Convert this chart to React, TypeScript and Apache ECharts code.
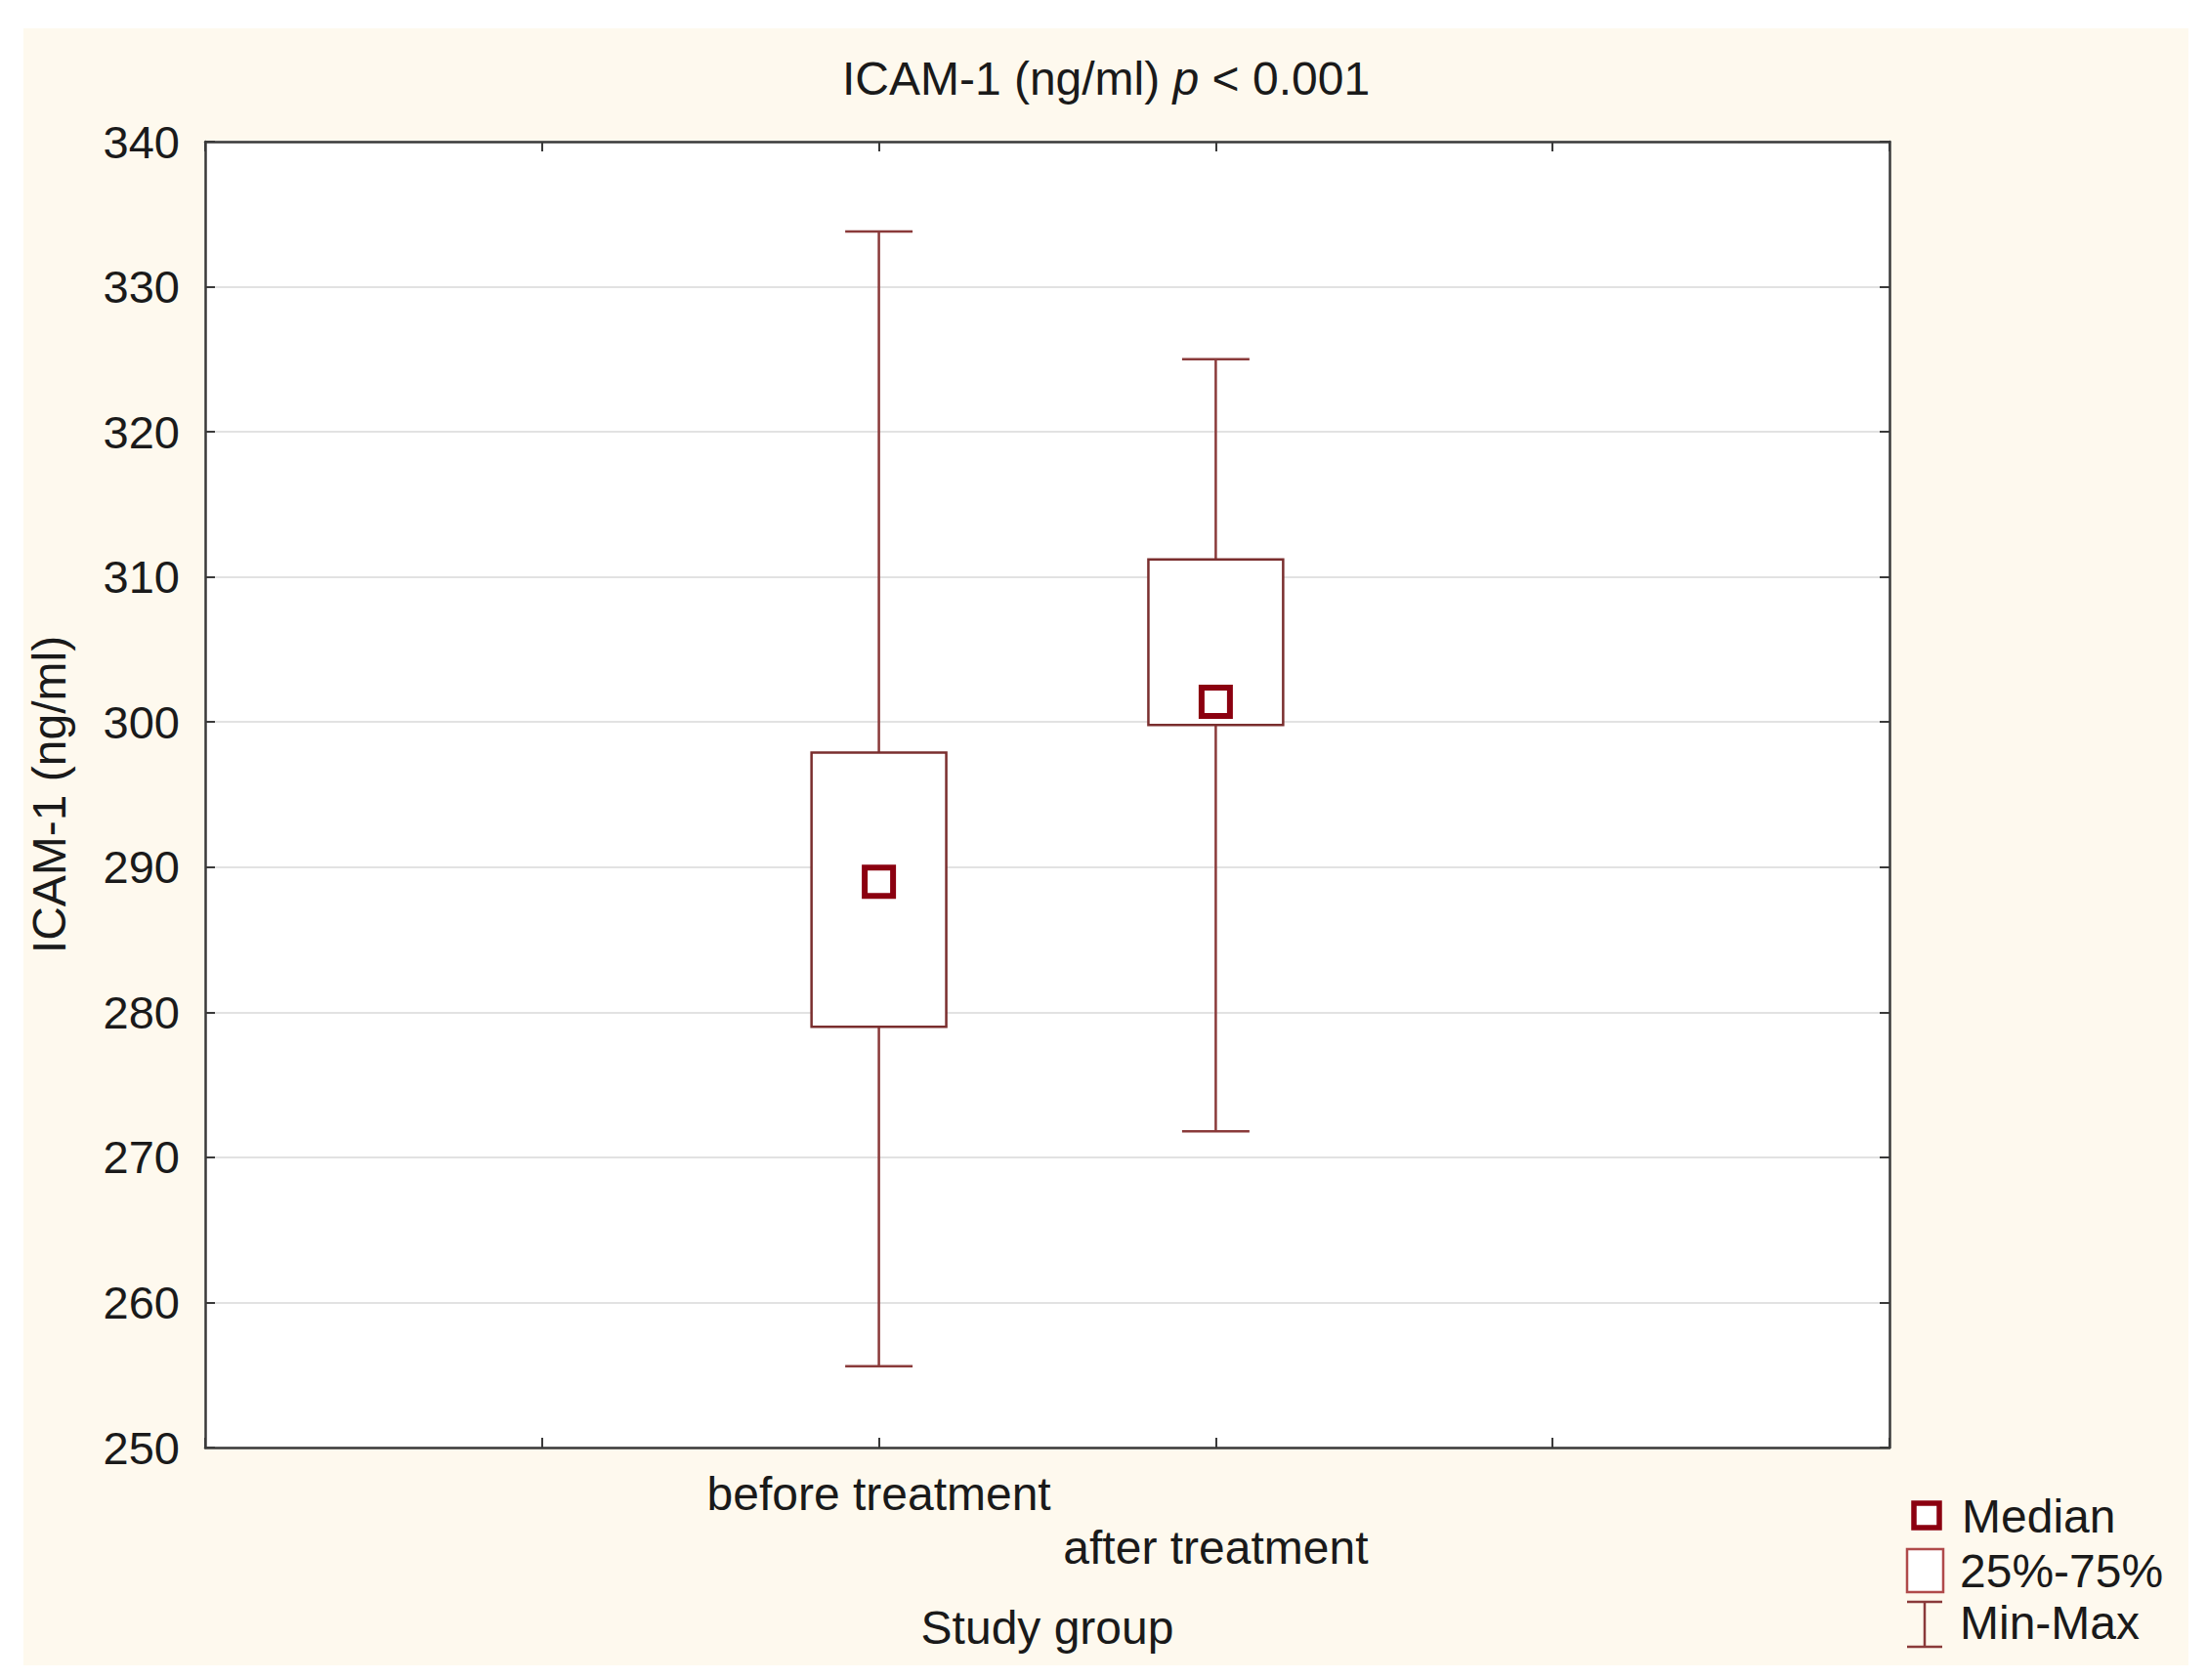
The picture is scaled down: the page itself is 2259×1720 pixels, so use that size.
import React, { useEffect, useRef } from "react";
import * as echarts from "echarts";

// ---- data ----
const categories = ["before treatment", "after treatment"];
const minValues = [255.6, 271.8];
const q1Values = [279.0, 299.8];
const medianValues = [289.0, 301.4];
const q3Values = [297.9, 311.2];
const maxValues = [333.8, 325.0];
const yTicks = { min: 250, max: 340, interval: 10 };
const titleMain = "ICAM-1 (ng/ml) ";
const titleP = "p";
const titleRest = " < 0.001";
const yName = "ICAM-1 (ng/ml)";
const xName = "Study group";
const legendLabels = ["Median", "25%-75%", "Min-Max"];

const FONT = "'Liberation Sans', Arial, sans-serif";
const BOX_COLOR = "#7a2e2e";
const WHISKER_COLOR = "#8a3a3a";
const MEDIAN_COLOR = "#8b0010";
const FS = 48;

export default function App() {
  const ref = useRef<HTMLDivElement>(null);

  useEffect(() => {
    document.body.style.margin = "0";
    if (!ref.current) return;
    const chart = echarts.init(ref.current, null, { renderer: "svg" });

    // pad the category axis with empty slots on both sides (5 equal bands)
    const axisCats = ["", "", ...categories, "", ""];
    const offset = 2;

    const boxData = categories.map((_, i) => [
      i + offset,
      minValues[i],
      q1Values[i],
      medianValues[i],
      q3Values[i],
      maxValues[i],
    ]);
    const medianData = categories.map((_, i) => [i + offset, medianValues[i]]);

    const renderItem = (params: any, api: any) => {
      const x = api.value(0);
      const vMin = api.value(1);
      const vQ1 = api.value(2);
      const vQ3 = api.value(4);
      const vMax = api.value(5);
      const pMin = api.coord([x, vMin]);
      const pQ1 = api.coord([x, vQ1]);
      const pQ3 = api.coord([x, vQ3]);
      const pMax = api.coord([x, vMax]);
      const band = api.coord([x + 1, vMin])[0] - pMin[0];
      const boxW = band * 0.4;
      const capW = band * 0.2;
      const cx = pMin[0];
      const lineStyle = { stroke: WHISKER_COLOR, lineWidth: 2.5 };
      return {
        type: "group",
        children: [
          { type: "line", shape: { x1: cx, y1: pMax[1], x2: cx, y2: pQ3[1] }, style: lineStyle },
          { type: "line", shape: { x1: cx, y1: pQ1[1], x2: cx, y2: pMin[1] }, style: lineStyle },
          { type: "line", shape: { x1: cx - capW / 2, y1: pMax[1], x2: cx + capW / 2, y2: pMax[1] }, style: lineStyle },
          { type: "line", shape: { x1: cx - capW / 2, y1: pMin[1], x2: cx + capW / 2, y2: pMin[1] }, style: lineStyle },
          {
            type: "rect",
            shape: { x: cx - boxW / 2, y: pQ3[1], width: boxW, height: pQ1[1] - pQ3[1] },
            style: { fill: "#ffffff", stroke: BOX_COLOR, lineWidth: 2.5 },
          },
        ],
      };
    };

    const tickLabelStyle = { color: "#1a1a1a", fontSize: FS, fontFamily: FONT };

    chart.setOption({
      animation: false,
      backgroundColor: "#ffffff",
      title: {
        text: `{n|${titleMain}}{i|${titleP}}{n|${titleRest}}`,
        left: 1127,
        textAlign: "center",
        top: 51,
        textStyle: {
          fontWeight: "normal",
          rich: {
            n: { fontSize: FS, fontFamily: FONT, color: "#1a1a1a", fontWeight: "normal" },
            i: { fontSize: FS, fontFamily: FONT, color: "#1a1a1a", fontStyle: "italic", fontWeight: "normal" },
          },
        },
      },
      graphic: [
        {
          type: "rect",
          z: -10,
          silent: true,
          shape: { x: 24, y: 29, width: 2216, height: 1676 },
          style: { fill: "#fef9ee" },
        },
        // legend
        {
          type: "rect",
          shape: { x: 1959, y: 1539, width: 26, height: 25 },
          style: { fill: "#ffffff", stroke: MEDIAN_COLOR, lineWidth: 5.5 },
        },
        {
          type: "text",
          x: 2008,
          y: 1552,
          style: { text: legendLabels[0], fontSize: FS, fontFamily: FONT, fill: "#1a1a1a", verticalAlign: "middle" },
        },
        {
          type: "rect",
          shape: { x: 1952, y: 1586, width: 37, height: 44 },
          style: { fill: "#ffffff", stroke: "#b04a4a", lineWidth: 2.5 },
        },
        {
          type: "text",
          x: 2006,
          y: 1608,
          style: { text: legendLabels[1], fontSize: FS, fontFamily: FONT, fill: "#1a1a1a", verticalAlign: "middle" },
        },
        {
          type: "line",
          shape: { x1: 1952, y1: 1640, x2: 1988, y2: 1640 },
          style: { stroke: WHISKER_COLOR, lineWidth: 2.5 },
        },
        {
          type: "line",
          shape: { x1: 1970, y1: 1640, x2: 1970, y2: 1686 },
          style: { stroke: WHISKER_COLOR, lineWidth: 2.5 },
        },
        {
          type: "line",
          shape: { x1: 1952, y1: 1686, x2: 1988, y2: 1686 },
          style: { stroke: WHISKER_COLOR, lineWidth: 2.5 },
        },
        {
          type: "text",
          x: 2006,
          y: 1661,
          style: { text: legendLabels[2], fontSize: FS, fontFamily: FONT, fill: "#1a1a1a", verticalAlign: "middle" },
        },
      ],
      grid: {
        left: 210,
        right: 2259 - 1934,
        top: 145,
        bottom: 1720 - 1482,
        show: true,
        backgroundColor: "#ffffff",
        borderWidth: 0,
      },
      xAxis: [
        {
          type: "category",
          data: axisCats,
          boundaryGap: false,
          position: "bottom",
          axisLine: { show: true, lineStyle: { color: "#3a3a3a", width: 2.5 } },
          axisTick: { show: true, inside: true, length: 10, interval: 0, lineStyle: { color: "#3a3a3a", width: 2 } },
          axisLabel: {
            interval: 0,
            margin: 20,
            lineHeight: 55,
            ...tickLabelStyle,
            formatter: (v: string, idx: number) => (idx === offset + 1 ? "\n" + v : v),
          },
          splitLine: { show: false },
          name: xName,
          nameLocation: "middle",
          nameGap: 160,
          nameTextStyle: { fontSize: FS, fontFamily: FONT, color: "#1a1a1a" },
        },
        {
          type: "category",
          data: axisCats,
          boundaryGap: false,
          position: "top",
          axisLine: { show: true, lineStyle: { color: "#3a3a3a", width: 2.5 } },
          axisTick: { show: true, inside: true, length: 10, interval: 0, lineStyle: { color: "#3a3a3a", width: 2 } },
          axisLabel: { show: false },
          splitLine: { show: false },
        },
      ],
      yAxis: [
        {
          type: "value",
          min: yTicks.min,
          max: yTicks.max,
          interval: yTicks.interval,
          position: "left",
          axisLine: { show: true, lineStyle: { color: "#3a3a3a", width: 2.5 } },
          axisTick: { show: true, inside: true, length: 10, lineStyle: { color: "#3a3a3a", width: 2 } },
          axisLabel: { margin: 26, ...tickLabelStyle, fontSize: 47 },
          splitLine: { show: true, lineStyle: { color: "#e2e2e2", width: 2 } },
          name: yName,
          nameLocation: "middle",
          nameGap: 136,
          nameTextStyle: { fontSize: FS, fontFamily: FONT, color: "#1a1a1a" },
        },
        {
          type: "value",
          min: yTicks.min,
          max: yTicks.max,
          interval: yTicks.interval,
          position: "right",
          axisLine: { show: true, lineStyle: { color: "#3a3a3a", width: 2.5 } },
          axisTick: { show: true, inside: true, length: 10, lineStyle: { color: "#3a3a3a", width: 2 } },
          axisLabel: { show: false },
          splitLine: { show: false },
        },
      ],
      series: [
        {
          type: "custom",
          xAxisIndex: 0,
          yAxisIndex: 0,
          renderItem,
          data: boxData,
          encode: { x: 0, y: [1, 2, 3, 4, 5] },
          z: 3,
        },
        {
          type: "scatter",
          xAxisIndex: 0,
          yAxisIndex: 0,
          data: medianData,
          symbol: "rect",
          symbolSize: 29,
          itemStyle: { color: "#ffffff", borderColor: MEDIAN_COLOR, borderWidth: 6, opacity: 1 },
          z: 5,
        },
      ],
    });

    return () => chart.dispose();
  }, []);

  return <div ref={ref} style={{ width: 2259, height: 1720 }} />;
}
